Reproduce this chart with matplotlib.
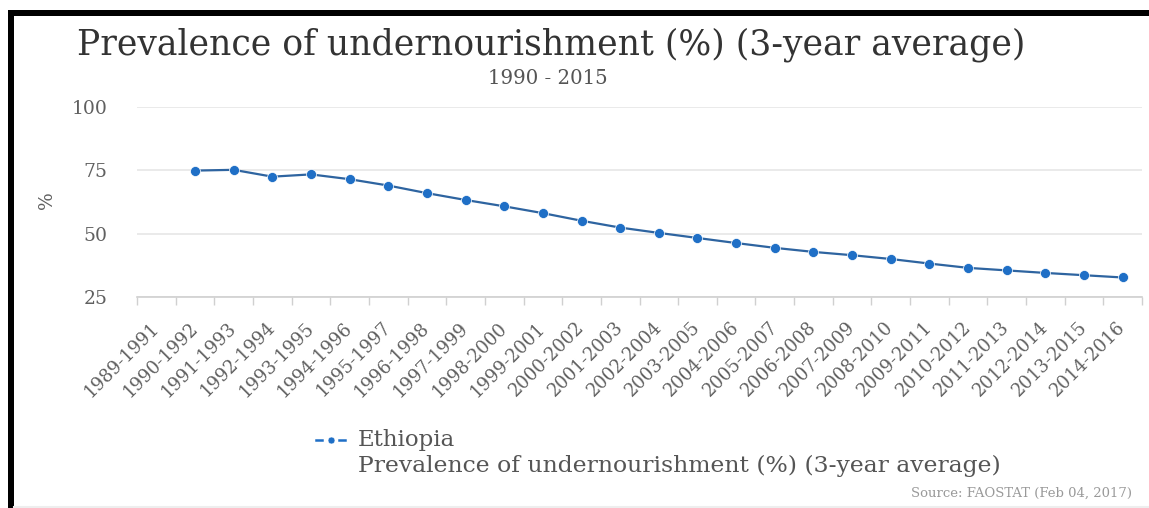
import numpy as np
import matplotlib
matplotlib.use("Agg")
import matplotlib.pyplot as plt
from matplotlib.lines import Line2D
from matplotlib.patches import Rectangle

# Three-year periods on the category axis
periods = [
    "1989-1991", "1990-1992", "1991-1993", "1992-1994", "1993-1995",
    "1994-1996", "1995-1997", "1996-1998", "1997-1999", "1998-2000",
    "1999-2001", "2000-2002", "2001-2003", "2002-2004", "2003-2005",
    "2004-2006", "2005-2007", "2006-2008", "2007-2009", "2008-2010",
    "2009-2011", "2010-2012", "2011-2013", "2012-2014", "2013-2015",
    "2014-2016",
]

# Ethiopia, prevalence of undernourishment (%), no value for the first period
ethiopia = [
    np.nan, 74.9, 75.2, 72.5, 73.4, 71.5, 69.0, 66.0, 63.3, 60.8,
    58.1, 55.1, 52.4, 50.3, 48.3, 46.3, 44.4, 42.8, 41.5, 40.0,
    38.2, 36.5, 35.5, 34.5, 33.6, 32.7,
]

y_ticks = [25, 50, 75, 100]

title = "Prevalence of undernourishment (%) (3-year average)"
subtitle = "1990 - 2015"
series_name = "Ethiopia"
source = "Source: FAOSTAT (Feb 04, 2017)"

W, H = 1149, 508
fig = plt.figure(figsize=(W / 100, H / 100), dpi=100)
fig.patch.set_facecolor("white")

serif = "DejaVu Serif"
blue = "#1f6fc6"
line_blue = "#2e64a0"
grid_col = "#e6e6e6"
tick_txt = "#606060"

ax = fig.add_axes([137 / W, 1 - 297 / H, 1005 / W, 190 / H])
x = np.arange(len(periods))

ax.plot(x, ethiopia, color=line_blue, lw=1.6, marker="o", ms=7.2,
        mfc=blue, mec="white", mew=0.5, zorder=3)

ax.set_xlim(-0.5, len(periods) - 0.5)
ax.set_ylim(y_ticks[0], y_ticks[-1])
ax.set_yticks(y_ticks)
ax.set_yticklabels([str(v) for v in y_ticks], fontfamily=serif,
                   fontsize=13.5, color=tick_txt)
ax.tick_params(axis="y", length=0, pad=21)
ax.yaxis.grid(True, color=grid_col, lw=1.2)
ax.set_axisbelow(True)

ax.set_xticks(x)
ax.set_xticklabels(periods, rotation=45, ha="right", va="center",
                   rotation_mode="anchor", fontfamily=serif, fontsize=13,
                   color=tick_txt)
ax.tick_params(axis="x", which="major", length=0, pad=20)
ax.set_xticks(np.arange(len(periods) + 1) - 0.5, minor=True)
ax.tick_params(axis="x", which="minor", length=6, width=1, color="#d0d0d0")

for s in ["top", "right", "left"]:
    ax.spines[s].set_visible(False)
ax.spines["bottom"].set_color("#d0d0d0")
ax.spines["bottom"].set_linewidth(1.2)

fig.text(47 / W, 1 - 200 / H, "%", rotation=90, ha="center", va="center",
         fontfamily=serif, fontsize=13.5, color=tick_txt)

fig.text(551 / W, 1 - 45 / H, title, ha="center", va="center",
         fontfamily=serif, fontsize=24.9, color="#333333")
fig.text(548 / W, 1 - 78 / H, subtitle, ha="center", va="center",
         fontfamily=serif, fontsize=14.2, color="#555555")

# legend entry: dash, dot, dash
ly = 1 - 440 / H
for x0, x1 in [(316, 322), (339, 345)]:
    fig.add_artist(Line2D([x0 / W, x1 / W], [ly, ly],
                          transform=fig.transFigure, color=blue, lw=1.8))
fig.add_artist(Line2D([330.5 / W], [ly], transform=fig.transFigure,
                      marker="o", ms=5, color=blue, mec="white", mew=0.4))
fig.text(358 / W, ly, series_name, ha="left", va="center",
         fontfamily=serif, fontsize=16.5, color="#555555")
fig.text(358 / W, 1 - 466 / H, title, ha="left", va="center",
         fontfamily=serif, fontsize=16.9, color="#555555")

fig.text(1132 / W, 1 - 493 / H, source, ha="right", va="center",
         fontfamily=serif, fontsize=9.5, color="#999999")

# frame bars along the top and left edges, thin rule at the bottom
fig.add_artist(Rectangle((8 / W, 1 - 16 / H), 1 - 8 / W, 6 / H,
                         transform=fig.transFigure, color="black", lw=0))
fig.add_artist(Rectangle((8 / W, 0), 6 / W, 1 - 10 / H,
                         transform=fig.transFigure, color="black", lw=0))
fig.add_artist(Line2D([14 / W, 1], [1.5 / H, 1.5 / H],
                      transform=fig.transFigure, color="#eeeeee", lw=1.5))

fig.savefig("out.png", dpi=100, facecolor="white")
